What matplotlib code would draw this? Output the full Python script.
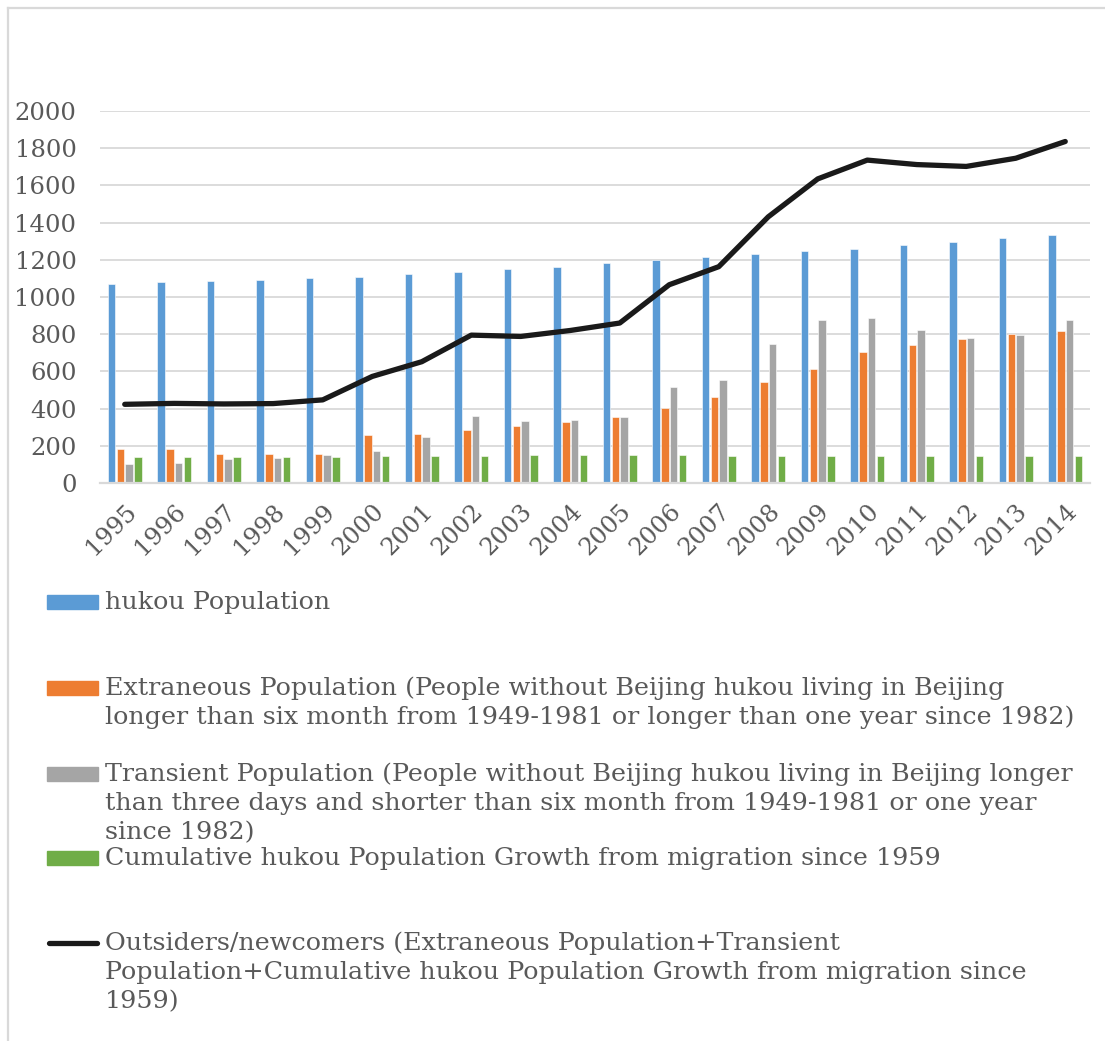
import matplotlib.pyplot as plt
import numpy as np
from matplotlib.lines import Line2D
from matplotlib.patches import Rectangle

years = ['1995', '1996', '1997', '1998', '1999', '2000', '2001', '2002', '2003', '2004',
         '2005', '2006', '2007', '2008', '2009', '2010', '2011', '2012', '2013', '2014']
hukou = [1070, 1078, 1086, 1092, 1100, 1108, 1122, 1136, 1149, 1163,
         1181, 1198, 1213, 1230, 1246, 1258, 1278, 1298, 1316, 1333]
extraneous = [181, 182, 155, 154, 157, 256, 263, 287, 308, 330,
              357, 403, 463, 541, 614, 705, 742, 774, 803, 819]
transient = [100, 107, 131, 134, 150, 172, 245, 358, 332, 341,
             354, 515, 555, 745, 874, 885, 823, 782, 794, 874]
cumulative = [140, 140, 140, 140, 140, 145, 145, 147, 148, 148,
              149, 148, 147, 146, 146, 146, 146, 146, 146, 144]
outsiders = [423, 428, 425, 427, 447, 573, 652, 795, 788, 820,
             860, 1066, 1163, 1431, 1635, 1736, 1712, 1702, 1746, 1836]

c_blue = '#5B9BD5'
c_orange = '#ED7D31'
c_gray = '#A5A5A5'
c_green = '#70AD47'
c_line = '#1a1a1a'
c_text = '#595959'
c_grid = '#d9d9d9'

W, H = 1105, 1041
fig = plt.figure(figsize=(W / 100, H / 100), dpi=100)
plt.rcParams['font.family'] = ['DejaVu Serif']

def fx(px):
    return px / W

def fy(py):
    return 1 - py / H

ax = fig.add_axes([fx(100), fy(483), fx(1090) - fx(100), fy(111) - fy(483)])

x = np.arange(len(years))
bw = 0.15
step = 0.18
for i, (vals, col) in enumerate([(hukou, c_blue), (extraneous, c_orange),
                                 (transient, c_gray), (cumulative, c_green)]):
    ax.bar(x + (i - 1.5) * step, vals, width=bw, color=col, edgecolor='white',
           linewidth=0.4, zorder=2)

ax.plot(x, outsiders, color=c_line, linewidth=3.8, solid_capstyle='round',
        solid_joinstyle='round', zorder=3)

ax.set_xlim(-0.5, len(years) - 0.5)
ax.set_ylim(0, 2000)
ax.set_yticks(range(0, 2001, 200))
ax.yaxis.grid(True, color=c_grid, linewidth=1.3, zorder=0)
ax.set_axisbelow(True)
for s in ['top', 'right', 'left']:
    ax.spines[s].set_visible(False)
ax.spines['bottom'].set_color(c_grid)
ax.spines['bottom'].set_linewidth(1.6)
ax.tick_params(axis='both', length=0, labelsize=17.5, labelcolor=c_text)
ax.tick_params(axis='y', pad=17)
ax.set_xticks(x)
ax.set_xticklabels(years, rotation=45, ha='right', rotation_mode='anchor')
ax.tick_params(axis='x', pad=12)

# frame
fig.add_artist(Line2D([fx(8), fx(8)], [fy(8), 0], color=c_grid, linewidth=1.6))
fig.add_artist(Line2D([fx(8), 1], [fy(8), fy(8)], color=c_grid, linewidth=1.6))

# legend
entries = [
    ('bar', c_blue, 602, ['hukou Population']),
    ('bar', c_orange, 688, ['Extraneous Population (People without Beijing hukou living in Beijing',
                             'longer than six month from 1949-1981 or longer than one year since 1982)']),
    ('bar', c_gray, 774, ['Transient Population (People without Beijing hukou living in Beijing longer',
                           'than three days and shorter than six month from 1949-1981 or one year',
                           'since 1982)']),
    ('bar', c_green, 858, ['Cumulative hukou Population Growth from migration since 1959']),
    ('line', c_line, 943, ['Outsiders/newcomers (Extraneous Population+Transient',
                            'Population+Cumulative hukou Population Growth from migration since',
                            '1959)']),
]
lsp = 29.5
for kind, col, y0, lines in entries:
    if kind == 'bar':
        fig.add_artist(Rectangle((fx(47), fy(y0 + 7)), fx(98) - fx(47), fy(y0 - 7) - fy(y0 + 7),
                                 color=col, transform=fig.transFigure))
    else:
        fig.add_artist(Line2D([fx(49), fx(97)], [fy(y0), fy(y0)], color=col, linewidth=3.8,
                              solid_capstyle='round'))
    for k, t in enumerate(lines):
        fig.text(fx(105), fy(y0 + k * lsp), t, fontsize=18.3, color=c_text, va='center', ha='left')

fig.savefig('out.png', dpi=100)
